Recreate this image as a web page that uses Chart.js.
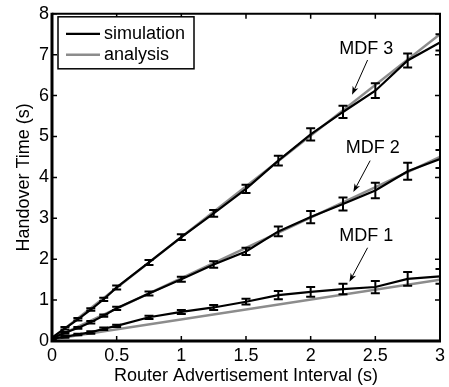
<!DOCTYPE html>
<html>
<head>
<meta charset="utf-8">
<script src="https://cdn.jsdelivr.net/npm/chart.js@4.4.0/dist/chart.umd.min.js"></script>
<style>
  html, body { margin: 0; padding: 0; background: #fff; }
  canvas { display: block; }
</style>
</head>
<body>
<canvas id="chart" width="449" height="387"></canvas>
<script>
// router advertisement interval (s)
const intervals = [0, 0.1, 0.2, 0.3, 0.4, 0.5, 0.75, 1, 1.25, 1.5, 1.75, 2, 2.25, 2.5, 2.75, 3];

// simulation: mean handover time (s)
const mdf1Sim = [0.06, 0.1, 0.16, 0.21, 0.3, 0.37, 0.58, 0.71, 0.82, 0.96, 1.12, 1.2, 1.27, 1.32, 1.52, 1.58];
const mdf2Sim = [0.07, 0.2, 0.32, 0.46, 0.62, 0.8, 1.16, 1.51, 1.87, 2.19, 2.68, 3.03, 3.35, 3.68, 4.15, 4.45];
const mdf3Sim = [0.08, 0.31, 0.53, 0.77, 1.02, 1.31, 1.92, 2.54, 3.12, 3.72, 4.41, 5.05, 5.6, 6.12, 6.86, 7.3];

// simulation: error bar half-widths (s)
const mdf1Err = [0.02, 0.02, 0.02, 0.03, 0.03, 0.03, 0.04, 0.05, 0.06, 0.07, 0.1, 0.12, 0.13, 0.15, 0.17, 0.18];
const mdf2Err = [0.02, 0.02, 0.02, 0.03, 0.03, 0.04, 0.05, 0.06, 0.08, 0.09, 0.12, 0.15, 0.16, 0.19, 0.21, 0.22];
const mdf3Err = [0.02, 0.03, 0.03, 0.03, 0.04, 0.05, 0.06, 0.07, 0.08, 0.1, 0.12, 0.15, 0.15, 0.18, 0.17, 0.2];

// analysis (straight lines)
const analysisX = [0, 3];
const mdf1Ana = [0.04, 1.5];
const mdf2Ana = [0.05, 4.5];
const mdf3Ana = [0.06, 7.5];

// tick labels
const xTickLabels = ['0', '0.5', '1', '1.5', '2', '2.5', '3'];
const yTickLabels = ['0', '1', '2', '3', '4', '5', '6', '7', '8'];

// curve labels with arrows (data coordinates)
const noteLabels = ['MDF 1', 'MDF 2', 'MDF 3'];
const noteTextX = [2.43, 2.48, 2.43];
const noteTextY = [2.56, 4.73, 7.15];
const noteFromX = [2.44, 2.46, 2.44];
const noteFromY = [2.28, 4.41, 6.87];
const noteToX = [2.30, 2.33, 2.32];
const noteToY = [1.45, 3.64, 6.02];

const FONT = "'Liberation Sans', Arial, Helvetica, sans-serif";
const SIM_COLOR = '#000000';
const ANA_COLOR = '#8c8c8c';

Chart.defaults.font.family = FONT;
Chart.defaults.color = '#000';

const toPoints = (xs, ys) => xs.map((x, i) => ({ x, y: ys[i] }));

const simSet = (name, ys, errs) => ({
  label: name,
  data: toPoints(intervals, ys),
  errors: errs,
  borderColor: SIM_COLOR,
  borderWidth: 2.2,
  pointRadius: 0,
  tension: 0,
  order: 1,
});

const anaSet = (name, ys) => ({
  label: name,
  data: toPoints(analysisX, ys),
  borderColor: ANA_COLOR,
  borderWidth: 2.5,
  pointRadius: 0,
  tension: 0,
  order: 2,
});

// error bars for simulation series
const errorBars = {
  id: 'errorBars',
  afterDatasetsDraw(chart) {
    const { ctx, chartArea: a, scales: { x, y } } = chart;
    ctx.save();
    ctx.beginPath();
    ctx.rect(a.left, a.top, a.right - a.left, a.bottom - a.top);
    ctx.clip();
    ctx.strokeStyle = '#000';
    ctx.lineWidth = 2;
    chart.data.datasets.forEach((ds) => {
      if (!ds.errors) return;
      ds.data.forEach((p, i) => {
        const e = ds.errors[i];
        const px = x.getPixelForValue(p.x);
        const y1 = y.getPixelForValue(p.y - e);
        const y2 = y.getPixelForValue(p.y + e);
        ctx.beginPath();
        ctx.moveTo(px, y1);
        ctx.lineTo(px, y2);
        ctx.moveTo(px - 4.5, y1);
        ctx.lineTo(px + 4.5, y1);
        ctx.moveTo(px - 4.5, y2);
        ctx.lineTo(px + 4.5, y2);
        ctx.stroke();
      });
    });
    ctx.restore();
  },
};

// labels with arrows pointing at the curves
const curveNotes = {
  id: 'curveNotes',
  afterDatasetsDraw(chart) {
    const { ctx, scales: { x, y } } = chart;
    ctx.save();
    ctx.font = `18px ${FONT}`;
    ctx.fillStyle = '#000';
    ctx.strokeStyle = '#000';
    ctx.textAlign = 'center';
    ctx.textBaseline = 'middle';
    noteLabels.forEach((txt, i) => {
      ctx.fillText(txt, x.getPixelForValue(noteTextX[i]), y.getPixelForValue(noteTextY[i]));
      const x1 = x.getPixelForValue(noteFromX[i]);
      const y1 = y.getPixelForValue(noteFromY[i]);
      const x2 = x.getPixelForValue(noteToX[i]);
      const y2 = y.getPixelForValue(noteToY[i]);
      const ang = Math.atan2(y2 - y1, x2 - x1);
      ctx.lineWidth = 1;
      ctx.beginPath();
      ctx.moveTo(x1, y1);
      ctx.lineTo(x2 - 5 * Math.cos(ang), y2 - 5 * Math.sin(ang));
      ctx.stroke();
      // arrow head
      ctx.beginPath();
      ctx.moveTo(x2, y2);
      ctx.lineTo(x2 - 9 * Math.cos(ang - 0.35), y2 - 9 * Math.sin(ang - 0.35));
      ctx.lineTo(x2 - 6 * Math.cos(ang), y2 - 6 * Math.sin(ang));
      ctx.lineTo(x2 - 9 * Math.cos(ang + 0.35), y2 - 9 * Math.sin(ang + 0.35));
      ctx.closePath();
      ctx.fill();
    });
    ctx.restore();
  },
};

// box frame with inward ticks and the legend
const frameAndLegend = {
  id: 'frameAndLegend',
  afterDraw(chart) {
    const { ctx, chartArea: { left, top, right, bottom }, scales: { x, y } } = chart;
    ctx.save();
    ctx.strokeStyle = '#000';
    ctx.lineWidth = 1.5;
    ctx.beginPath();
    x.ticks.forEach((t) => {
      const px = x.getPixelForValue(t.value);
      ctx.moveTo(px, bottom);
      ctx.lineTo(px, bottom - 5);
      ctx.moveTo(px, top);
      ctx.lineTo(px, top + 5);
    });
    y.ticks.forEach((t) => {
      const py = y.getPixelForValue(t.value);
      ctx.moveTo(left, py);
      ctx.lineTo(left + 5, py);
      ctx.moveTo(right, py);
      ctx.lineTo(right - 5, py);
    });
    ctx.stroke();

    ctx.lineWidth = 2;
    ctx.beginPath();
    ctx.moveTo(left, top);
    ctx.lineTo(right, top);
    ctx.lineTo(right, bottom);
    ctx.stroke();
    ctx.lineWidth = 3;
    ctx.beginPath();
    ctx.moveTo(left, top - 1);
    ctx.lineTo(left, bottom);
    ctx.lineTo(right + 1, bottom);
    ctx.stroke();

    // legend
    const bx = left + 6;
    const by = top + 3;
    ctx.fillStyle = '#fff';
    ctx.fillRect(bx, by, 136, 52);
    ctx.lineWidth = 1.5;
    ctx.strokeRect(bx, by, 136, 52);
    const rows = [['simulation', SIM_COLOR, 2.2], ['analysis', ANA_COLOR, 2.5]];
    ctx.font = `18px ${FONT}`;
    ctx.textBaseline = 'middle';
    ctx.fillStyle = '#000';
    rows.forEach(([txt, col, w], i) => {
      const ry = by + 17 + i * 21;
      ctx.strokeStyle = col;
      ctx.lineWidth = w;
      ctx.beginPath();
      ctx.moveTo(bx + 8, ry);
      ctx.lineTo(bx + 42, ry);
      ctx.stroke();
      ctx.fillText(txt, bx + 46, ry);
    });
    ctx.restore();
  },
};

new Chart(document.getElementById('chart'), {
  type: 'line',
  data: {
    datasets: [
      simSet('MDF 1 simulation', mdf1Sim, mdf1Err),
      simSet('MDF 2 simulation', mdf2Sim, mdf2Err),
      simSet('MDF 3 simulation', mdf3Sim, mdf3Err),
      anaSet('MDF 1 analysis', mdf1Ana),
      anaSet('MDF 2 analysis', mdf2Ana),
      anaSet('MDF 3 analysis', mdf3Ana),
    ],
  },
  options: {
    responsive: false,
    animation: false,
    layout: { padding: { top: 12, right: 5, left: 0, bottom: 0 } },
    plugins: {
      legend: { display: false },
      tooltip: { enabled: false },
    },
    scales: {
      x: {
        type: 'linear',
        min: 0,
        max: 3,
        grid: { display: false, drawTicks: false },
        border: { display: false },
        ticks: {
          stepSize: 0.5,
          padding: 4,
          font: { size: 18 },
          color: '#000',
          maxRotation: 0,
          callback: (v, i) => xTickLabels[i],
        },
        title: {
          display: true,
          text: 'Router Advertisement Interval (s)',
          font: { size: 18 },
          color: '#000',
          padding: { top: 0, bottom: 0 },
        },
        afterFit(scale) { scale.height = 46; },
      },
      y: {
        min: 0,
        max: 8,
        grid: { display: false, drawTicks: false },
        border: { display: false },
        ticks: {
          stepSize: 1,
          padding: 3,
          font: { size: 18 },
          color: '#000',
          callback: (v, i) => yTickLabels[i],
        },
        title: {
          display: true,
          text: 'Handover Time (s)',
          font: { size: 18 },
          color: '#000',
          padding: { top: 13, bottom: 0 },
        },
        afterFit(scale) { scale.width = 52; },
      },
    },
  },
  plugins: [errorBars, curveNotes, frameAndLegend],
});
</script>
</body>
</html>
